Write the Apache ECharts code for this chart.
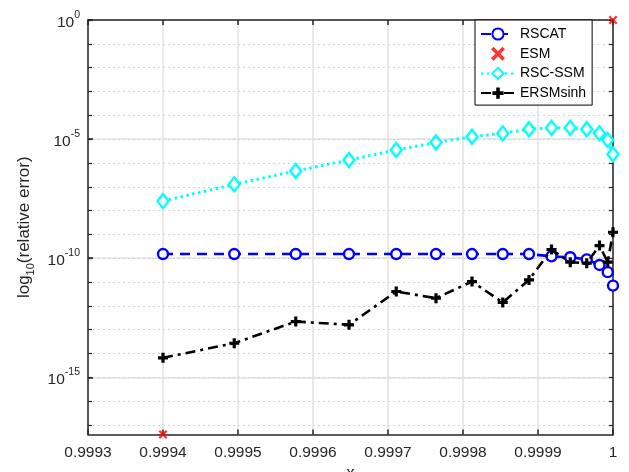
<!DOCTYPE html>
<html>
<head>
<meta charset="utf-8">
<script src="https://cdn.jsdelivr.net/npm/echarts@6/dist/echarts.min.js"></script>
<style>html,body{margin:0;padding:0;background:#fff;}#c{width:629px;height:472px;}</style>
</head>
<body>
<div id="c"></div>
<script>
// ---- data ----
var xValues = [0.99940, 0.999495, 0.999577, 0.999648, 0.999711, 0.999764, 0.999812, 0.999853, 0.999888, 0.999918, 0.999943, 0.999965, 0.999982, 0.999993, 1.0];
var rscat = [1.5e-10, 1.5e-10, 1.5e-10, 1.5e-10, 1.5e-10, 1.5e-10, 1.5e-10, 1.5e-10, 1.5e-10, 1.2e-10, 1.1e-10, 8.9e-11, 5.2e-11, 2.6e-11, 7.1e-12];
var rscSsm = [2.5e-8, 1.26e-7, 4.6e-7, 1.32e-6, 3.5e-6, 7.2e-6, 1.26e-5, 1.74e-5, 2.6e-5, 2.95e-5, 2.95e-5, 2.6e-5, 1.74e-5, 9.1e-6, 2.3e-6];
var ersmSinh = [6.6e-15, 2.7e-14, 2.2e-13, 1.6e-13, 4.0e-12, 2.1e-12, 1.05e-11, 1.4e-12, 1.23e-11, 2.3e-10, 6.8e-11, 6.2e-11, 3.4e-10, 6.8e-11, 1.23e-9];
var esmX = [0.9994, 1.0];
var esm = [4e-18, 1];
var xTicks = ['0.9993', '0.9994', '0.9995', '0.9996', '0.9997', '0.9998', '0.9999', '1'];
var yMajorExp = [-15, -10, -5, 0];
var yMinorExp = [-17, -16, -15, -14, -13, -12, -11, -10, -9, -8, -7, -6, -5, -4, -3, -2, -1, 0];
var seriesNames = ['RSCAT', 'ESM', 'RSC-SSM', 'ERSMsinh'];

var yMinExp = -17.4, yMaxExp = 0;
var xMin = 0.9993, xMax = 1.0, xStep = 0.0001;

function pairs(xs, ys) { return xs.map(function (x, i) { return [x, Math.log10(ys[i])]; }); }

var FONT = 'Liberation Sans, Arial, Helvetica, sans-serif';
var AX = '#262626';
var plusPath = 'path://M3.4,0H6.6V3.4H10V6.6H6.6V10H3.4V6.6H0V3.4H3.4Z';
var xPath = 'path://M0,1.8L1.8,0L5,3.2L8.2,0L10,1.8L6.8,5L10,8.2L8.2,10L5,6.8L1.8,10L0,8.2L3.2,5Z';

var chart = echarts.init(document.getElementById('c'), null, { renderer: 'canvas' });
var option = {
  backgroundColor: '#fff',
  animation: false,
  textStyle: { fontFamily: FONT },
  grid: { left: 88, right: 16, top: 20, bottom: 37.5, containLabel: false, outerBoundsMode: 'none' },
  legend: {
    orient: 'vertical', left: 475, top: 20,
    padding: [7, 6, 5, 5],
    itemWidth: 34, itemHeight: 14, itemGap: 5.7,
    backgroundColor: '#fff', borderColor: '#000', borderWidth: 1,
    textStyle: { fontFamily: FONT, fontSize: 14, color: '#000' },
    data: seriesNames
  },
  xAxis: [{
    type: 'value', position: 'bottom', min: xMin, max: xMax, interval: xStep,
    axisLine: { show: true, onZero: false, lineStyle: { color: AX, width: 1.5 } },
    axisTick: { show: true, inside: true, length: 5, lineStyle: { color: AX, width: 1.5 } },
    axisLabel: {
      margin: 10, fontSize: 15.5, color: AX, fontFamily: FONT,
      formatter: function (v) {
        var idx = Math.round((v - xMin) / xStep);
        return xTicks[idx] !== undefined ? xTicks[idx] : '';
      }
    },
    splitLine: { show: true, lineStyle: { color: '#e2e2e2', width: 1.5 } },
    name: 'x', nameLocation: 'middle', nameGap: 31,
    nameTextStyle: { fontSize: 16, color: AX, fontFamily: FONT, verticalAlign: 'top' }
  }, {
    type: 'value', position: 'top', min: xMin, max: xMax, interval: xStep,
    axisLine: { show: true, onZero: false, lineStyle: { color: AX, width: 1.5 } },
    axisTick: { show: true, inside: true, length: 5, lineStyle: { color: AX, width: 1.5 } },
    axisLabel: { show: false }, splitLine: { show: false }
  }],
  yAxis: [{
    type: 'value', position: 'left', min: yMinExp, max: yMaxExp,
    axisLine: { show: true, onZero: false, lineStyle: { color: AX, width: 1.5 } },
    axisTick: { show: true, inside: true, length: 5, customValues: yMajorExp, lineStyle: { color: AX, width: 1.5 } },
    axisLabel: {
      margin: 8, color: AX, fontFamily: FONT, customValues: yMajorExp,
      formatter: function (v) {
        var r = Math.round(v);
        return '{b|10}{s|' + r + '}';
      },
      rich: {
        b: { fontSize: 15.5, color: AX, fontFamily: FONT, verticalAlign: 'bottom', lineHeight: 21 },
        s: { fontSize: 10.5, color: AX, fontFamily: FONT, verticalAlign: 'top', lineHeight: 21 }
      }
    },
    splitLine: { show: true, lineStyle: { color: '#e2e2e2', width: 1.5 } },
    name: 'log{s|10}(relative error)', nameLocation: 'middle', nameGap: 42, nameRotate: 90,
    nameTextStyle: {
      fontSize: 17, color: AX, fontFamily: FONT,
      rich: {
        s: { fontSize: 11, color: AX, fontFamily: FONT, verticalAlign: 'bottom', lineHeight: 24 }
      }
    }
  }, {
    type: 'value', position: 'left', min: yMinExp, max: yMaxExp,
    axisLine: { show: false },
    axisTick: { show: true, inside: true, length: 4, customValues: yMinorExp, lineStyle: { color: AX, width: 1.2 } },
    axisLabel: { show: false, customValues: yMinorExp },
    splitLine: { show: true, lineStyle: { color: '#d4d4d4', width: 1.2, type: [2, 3] } }
  }, {
    type: 'value', position: 'right', min: yMinExp, max: yMaxExp,
    axisLine: { show: true, onZero: false, lineStyle: { color: AX, width: 1.5 } },
    axisTick: { show: true, inside: true, length: 4, customValues: yMinorExp, lineStyle: { color: AX, width: 1.2 } },
    axisLabel: { show: false, customValues: yMinorExp }, splitLine: { show: false }
  }],
  series: [{
    name: 'RSCAT', type: 'line', xAxisIndex: 0, yAxisIndex: 0,
    data: pairs(xValues, rscat), clip: false, z: 3,
    symbol: 'circle', symbolSize: 10,
    lineStyle: { color: '#0000ff', width: 2.6, type: [10, 7] },
    itemStyle: { color: '#fff', borderColor: '#0000ff', borderWidth: 2.4 }
  }, {
    name: 'ESM', type: 'scatter', xAxisIndex: 0, yAxisIndex: 0,
    data: pairs(esmX, esm), clip: false, z: 4,
    symbol: xPath, symbolSize: 9,
    itemStyle: { color: '#ff0000' }
  }, {
    name: 'RSC-SSM', type: 'line', xAxisIndex: 0, yAxisIndex: 0,
    data: pairs(xValues, rscSsm), clip: false, z: 5,
    symbol: 'diamond', symbolSize: [11, 14],
    lineStyle: { color: '#00ffff', width: 3, type: [2.5, 3.5] },
    itemStyle: { color: '#fff', borderColor: '#00ffff', borderWidth: 2.4 }
  }, {
    name: 'ERSMsinh', type: 'line', xAxisIndex: 0, yAxisIndex: 0,
    data: pairs(xValues, ersmSinh), clip: false, z: 6,
    symbol: plusPath, symbolSize: 10,
    lineStyle: { color: '#000', width: 2.6, type: [10, 5, 3, 5] },
    itemStyle: { color: '#000' }
  }]
};
chart.setOption(option);
</script>
</body>
</html>
